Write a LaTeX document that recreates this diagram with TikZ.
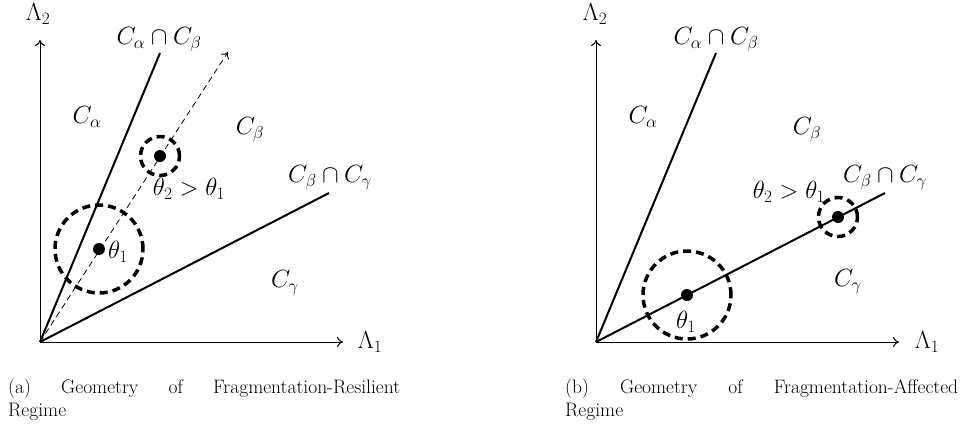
\documentclass[tikz,border=0pt]{standalone}
\usetikzlibrary{arrows.meta}
\begin{document}
\begin{tikzpicture}[x=1pt,y=-1pt,
  axis/.style={line width=1pt,-{To[length=6pt,width=10pt]}},
  boundary/.style={line width=2pt},
  ray/.style={line width=0.8pt,dash pattern=on 6pt off 4pt,-{To[length=6pt,width=10pt]}},
  lab/.style={inner sep=0pt,font=\fontsize{25}{30}\selectfont},
  captxt/.style={inner sep=0pt,anchor=base west,font=\fontsize{19.5}{23}\selectfont},
  dot/.style={circle,fill=black,inner sep=0pt,minimum size=12pt},
  ring/.style={circle,draw,line width=3.5pt,dash pattern=on 8pt off 5pt,inner sep=0pt}]
\useasboundingbox (0,0) rectangle (962,432);

% ---------- panel (a) ----------
\coordinate (Oa) at (40,342);
\coordinate (Xa) at (343,342);
\coordinate (Ya) at (40,40);
\coordinate (ABa) at (160,53);
\coordinate (BGa) at (329,193);
\coordinate (Ra) at (228,52);
\draw[axis] (Oa) -- (Xa);
\draw[axis] (Oa) -- (Ya);
\draw[boundary] (Oa) -- (ABa);
\draw[boundary] (Oa) -- (BGa);
\draw[ray] (Oa) -- (Ra);
\node[ring,minimum size=88pt] (bigA) at (99,249) {};
\node[dot] (t1a) at (99,249) {};
\node[ring,minimum size=39pt] (smallA) at (160,156) {};
\node[dot] (t2a) at (160,156) {};
\node[lab] (L2a) at (38,14) {$\Lambda_2$};
\node[lab] (L1a) at (370,342) {$\Lambda_1$};
\node[lab] (CABa) at (159,40) {$C_\alpha \cap C_\beta$};
\node[lab] (CBGa) at (330,178) {$C_\beta \cap C_\gamma$};
\node[lab] (Caa) at (87,117) {$C_\alpha$};
\node[lab] (Cba) at (250,130) {$C_\beta$};
\node[lab] (Cga) at (285,283) {$C_\gamma$};
\node[lab] (th1a) at (118,252) {$\theta_1$};
\node[lab] (th2a) at (189,189) {$\theta_2 > \theta_1$};
\node[captxt] (capa1) at (8,393) {\hbox to 392pt{(a)\hfill Geometry\hfill of\hfill Fragmentation-Resilient}};
\node[captxt] (capa2) at (8,416) {Regime};

% ---------- panel (b) ----------
\coordinate (Ob) at (596,342);
\coordinate (Xb) at (899,342);
\coordinate (Yb) at (596,40);
\coordinate (ABb) at (716,53);
\coordinate (BGb) at (885,193);
\draw[axis] (Ob) -- (Xb);
\draw[axis] (Ob) -- (Yb);
\draw[boundary] (Ob) -- (ABb);
\draw[boundary] (Ob) -- (BGb);
\node[ring,minimum size=88pt] (bigB) at (687,295) {};
\node[dot] (t1b) at (687,295) {};
\node[ring,minimum size=39pt] (smallB) at (838,217) {};
\node[dot] (t2b) at (838,217) {};
\node[lab] (L2b) at (595,14) {$\Lambda_2$};
\node[lab] (L1b) at (927,342) {$\Lambda_1$};
\node[lab] (CABb) at (716,40) {$C_\alpha \cap C_\beta$};
\node[lab] (CBGb) at (885,178) {$C_\beta \cap C_\gamma$};
\node[lab] (Cab) at (643,117) {$C_\alpha$};
\node[lab] (Cbb) at (807,130) {$C_\beta$};
\node[lab] (Cgb) at (848,282) {$C_\gamma$};
\node[lab] (th1b) at (686,322) {$\theta_1$};
\node[lab] (th2b) at (789,192) {$\theta_2 > \theta_1$};
\node[captxt] (capb1) at (565,393) {\hbox to 393pt{(b)\hfill Geometry\hfill of\hfill Fragmentation-Affected}};
\node[captxt] (capb2) at (565,416) {Regime};
\end{tikzpicture}
\end{document}
